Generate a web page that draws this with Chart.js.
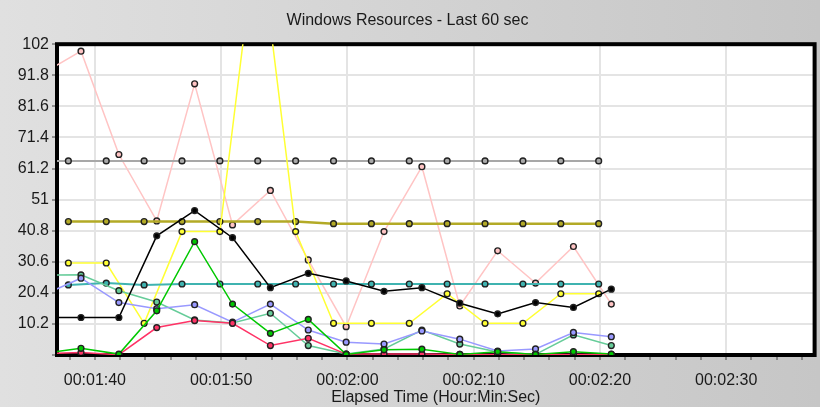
<!DOCTYPE html>
<html>
<head>
<meta charset="utf-8">
<script src="https://cdn.jsdelivr.net/npm/chart.js@4/dist/chart.umd.min.js"></script>
<style>
    body { margin: 0; background: #d4d4d4; }
    canvas { display: block; }
</style>
</head>
<body>
<canvas id="graphique" width="820" height="407"></canvas>
<script>
/*
    ********************************
        données
    ********************************
*/
// instants des mesures (secondes écoulées), deux séries d'échantillons décalées d'une seconde
const tempsA = [94.9, 97.9, 100.9, 103.9, 106.9, 109.9, 112.9, 115.9, 118.9, 121.9, 124.9, 127.9, 130.9, 133.9, 136.9, 139.9];
const tempsB = [95.9, 98.9, 101.9, 104.9, 107.9, 110.9, 113.9, 116.9, 119.9, 122.9, 125.9, 128.9, 131.9, 134.9, 137.9, 140.9];

// séries sur tempsA
const gris   = [63.7, 63.7, 63.7, 63.7, 63.7, 63.7, 63.7, 63.7, 63.7, 63.7, 63.7, 63.7, 63.7, 63.7, 63.7, 63.7];
const olive  = [null, 43.8, 43.8, 43.8, 43.8, 43.8, 43.8, 43.8, 43.1, 43.1, 43.1, 43.1, 43.1, 43.1, 43.1, 43.1];
const turquoise = [null, 23.0, 23.6, 23.0, 23.3, 23.3, 23.3, 23.3, 23.3, 23.3, 23.3, 23.3, 23.3, 23.3, 23.3, 23.3];
const jaune  = [null, 30.2, 30.2, 10.4, 40.5, 40.5, 142, 40.5, 10.4, 10.4, 10.4, 20.1, 10.4, 10.4, 20.1, 20.1];

// séries sur tempsB
const noir   = [12.3, 12.3, 12.3, 39.1, 47.4, 38.5, 22.1, 26.8, 24.3, 20.9, 22.1, 17.0, 13.5, 17.2, 15.6, 21.6];
const rose   = [92.5, 99.7, 65.8, 44.0, 89.0, 42.7, 54.0, 31.2, 9.3, 40.5, 61.8, 16.1, 34.2, 23.6, 35.6, 16.7];
const vertEau = [26.2, 26.3, 21.1, 17.4, 11.5, 10.5, 13.7, 3.1, 0.3, 2.0, 8.2, 3.6, 1.0, 0.2, 6.6, 3.1];
const bleu   = [19.7, 25.2, 17.2, 15.2, 16.5, 10.8, 16.7, 8.2, 4.2, 3.6, 7.9, 5.2, 1.3, 2.0, 7.4, 6.0];
const vert   = [0.5, 2.2, 0.3, 14.5, 37.2, 16.7, 7.1, 11.7, 0.2, 1.7, 1.9, 0.2, 1.1, 0.2, 1.1, 0.3];
const rouge  = [0.5, 0.8, 0.1, 9.0, 11.3, 10.4, 3.1, 5.5, 0.3, 0.3, 0.3, 0.2, 0.2, 0.2, 0.2, 0.2];

// graduations
const yGraduations = [0, 10.2, 20.4, 30.6, 40.8, 51, 61.2, 71.4, 81.6, 91.8, 102];
const yEtiquettes  = ["", "10.2", "20.4", "30.6", "40.8", "51", "61.2", "71.4", "81.6", "91.8", "102"];
const xMajeures    = [100, 110, 120, 130, 140, 150];
const xEtiquettes  = ["00:01:40", "00:01:50", "00:02:00", "00:02:10", "00:02:20", "00:02:30"];
const xMineures    = [98, 100, 102, 104, 106, 108, 110, 112, 114, 116, 118, 120, 122, 124, 126, 128,
                      130, 132, 134, 136, 138, 140, 142, 144, 146, 148, 150, 152, 154, 156];


/*
    ********************************
    fonction qui construit une série
    ********************************
*/
function serie(temps, valeurs, couleur, epaisseur) {
    const points = [];
    for (let i = 0; i < temps.length; i++) {
        points.push({ x: temps[i], y: valeurs[i] });
    }
    return {
        data: points,
        borderColor: couleur,
        borderWidth: epaisseur,
        backgroundColor: couleur,
        pointBackgroundColor: couleur,
        pointBorderColor: "#222",
        pointBorderWidth: 1.4,
        pointRadius: 2.9,
        tension: 0,
        spanGaps: false,
    };
}


/*
    ********************************
    fond gris, zone blanche, cadre noir
    ********************************
*/
const fondPlugin = {
    id: "fond",
    beforeDraw(chart) {
        const { ctx, chartArea: a, width, height } = chart;
        ctx.save();
        const degrade = ctx.createLinearGradient(0, 0, width, 0);
        degrade.addColorStop(0, "#e0e0e0");
        degrade.addColorStop(1, "#c6c6c6");
        ctx.fillStyle = degrade;
        ctx.fillRect(0, 0, width, height);
        ctx.fillStyle = "#ffffff";
        ctx.fillRect(a.left, a.top, a.right - a.left, a.bottom - a.top);
        ctx.restore();
    },
    beforeDatasetsDraw(chart) {
        const { ctx, chartArea: a } = chart;
        ctx.save();
        ctx.strokeStyle = "#000";
        ctx.lineWidth = 4;
        ctx.strokeRect(a.left, a.top, a.right - a.left, a.bottom - a.top);
        ctx.restore();
    }
};

const police = { family: "'Liberation Sans', Arial, sans-serif", size: 16, weight: "normal" };

// le premier jeu est dessiné au-dessus
const datasets = [
    serie(tempsB, noir, "#000000", 1.5),
    serie(tempsB, vert, "#00c800", 1.5),
    serie(tempsB, rouge, "#ff3366", 1.5),
    serie(tempsB, bleu, "#9999ff", 1.5),
    serie(tempsB, vertEau, "#66cc99", 1.5),
    serie(tempsA, turquoise, "#3fb3b0", 2),
    serie(tempsA, jaune, "#ffff33", 1.5),
    serie(tempsA, olive, "#b3aa26", 2.5),
    serie(tempsA, gris, "#a8a8a8", 2),
    serie(tempsB, rose, "#ffc4c4", 1.5),
];

const config = {
    type: "line",
    data: { datasets: datasets },
    plugins: [fondPlugin],
    options: {
        responsive: false,
        animation: false,
        layout: { padding: { top: 0, right: 5, bottom: 0, left: 0 } },
        plugins: {
            legend: { display: false },
            tooltip: { enabled: false },
            title: {
                display: true,
                text: "Windows Resources - Last 60 sec",
                color: "#1a1a1a",
                font: police,
                padding: { top: 11, bottom: 14 }
            }
        },
        scales: {
            x: {
                type: "linear",
                min: 97,
                max: 157,
                afterFit: (s) => { s.height = 52; },
                afterBuildTicks: (s) => { s.ticks = xMineures.map(v => ({ value: v })); },
                border: { display: false },
                grid: {
                    color: (c) => xMajeures.includes(c.tick.value) ? "#e4e4e4" : "rgba(0,0,0,0)",
                    lineWidth: 2,
                    drawTicks: true,
                    tickLength: 5,
                    tickColor: "#444",
                    tickWidth: 1
                },
                ticks: {
                    autoSkip: false,
                    maxRotation: 0,
                    padding: 11,
                    color: "#1a1a1a",
                    font: police,
                    callback: (v) => {
                        const i = xMajeures.indexOf(v);
                        return i >= 0 ? xEtiquettes[i] : "";
                    }
                },
                title: {
                    display: true,
                    text: "Elapsed Time (Hour:Min:Sec)",
                    color: "#1a1a1a",
                    font: police,
                    padding: { top: 0, bottom: 0 }
                }
            },
            y: {
                min: 0,
                max: 102,
                afterFit: (s) => { s.width = 57; },
                afterBuildTicks: (s) => { s.ticks = yGraduations.map(v => ({ value: v })); },
                border: { display: false },
                grid: {
                    color: "#e4e4e4",
                    lineWidth: 2,
                    tickLength: 5,
                    tickColor: "#444",
                    tickWidth: 1
                },
                ticks: {
                    padding: 3,
                    color: "#1a1a1a",
                    font: police,
                    callback: (v, i) => yEtiquettes[i]
                }
            }
        }
    }
};

// Rendu du graphique
const graphique = new Chart(document.querySelector("#graphique"), config);
</script>
</body>
</html>
